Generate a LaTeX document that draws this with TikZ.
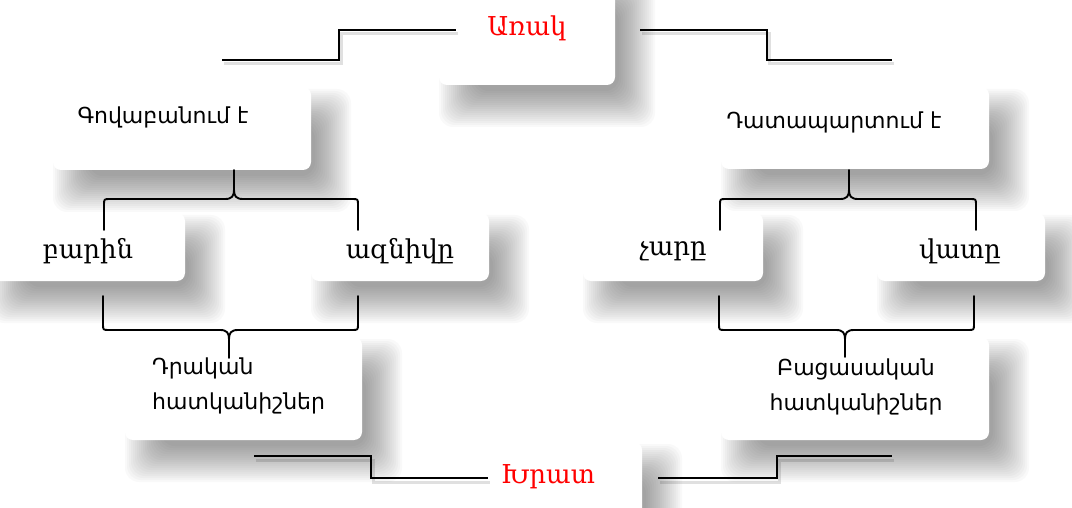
\documentclass[tikz,border=0pt]{standalone}
\usepackage{fontspec}
\newfontfamily\armsans{DejaVu Sans}
\newfontfamily\armserif{DejaVu Serif}
\tikzset{
  box/.style={draw=none, fill=white, rounded corners=8pt, inner sep=0pt},
  stepline/.style={line width=2.8pt, black},
  stepshadow/.style={line width=3pt, black, opacity=0.12},
  brace/.style={line width=1.9pt, black, line join=round, line cap=round},
  sanslbl/.style={font=\armsans\fontsize{22}{35}\selectfont, text=black, inner sep=0pt},
  seriflbl/.style={font=\armserif\fontsize{26}{30}\selectfont, text=black, inner sep=0pt},
  redlbl/.style={seriflbl, text=red},
}
\newcommand{\boxshadow}[4]{%
  \foreach \s in {-16,-14,...,20}{%
    \fill[black, opacity=0.024, rounded corners=14pt] ({#1+20-\s},{#2+22-\s}) rectangle ({#3+20+\s},{#4+22+\s});
  }}
\newcommand{\curlybrace}[7]{%
  \draw[brace] (#1,#6) -- (#1,{#4+6*#7}) .. controls (#1,#4) .. ({#1+6},#4) -- ({#3-9},#4)
    .. controls ({#3-2},#4) and (#3,{#4-3*#7}) .. (#3,{#4-9*#7}) -- (#3,#5)
    (#3,{#4-9*#7}) .. controls (#3,{#4-3*#7}) and ({#3+2},#4) .. ({#3+9},#4)
    -- ({#2-6},#4) .. controls (#2,#4) .. (#2,{#4+6*#7}) -- (#2,#6);}
\begin{document}
\begin{tikzpicture}[x=1pt,y=-1pt]
\useasboundingbox (0,0) rectangle (1072,508);
% shadows
\boxshadow{439}{-30}{615}{85}
\boxshadow{53}{87}{311}{170}
\boxshadow{-10}{213}{185}{281}
\boxshadow{311}{213}{489}{281}
\boxshadow{125}{337}{362}{440}
\boxshadow{457}{442}{642}{545}
\boxshadow{721}{87}{989}{169}
\boxshadow{583}{213}{763}{281}
\boxshadow{877}{213}{1045}{281}
\boxshadow{721}{337}{989}{440}
% boxes
\node[box, minimum width=176pt, minimum height=115pt] (arak) at (527,27.5) {};
\node[box, minimum width=258pt, minimum height=83pt] (gov) at (182,128.5) {};
\node[box, minimum width=195pt, minimum height=68pt] (bar) at (87.5,247) {};
\node[box, minimum width=178pt, minimum height=68pt] (azn) at (400,247) {};
\node[box, minimum width=237pt, minimum height=103pt] (drak) at (243.5,388.5) {};
\node[box, minimum width=185pt, minimum height=103pt] (khrat) at (549.5,493.5) {};
\node[box, minimum width=268pt, minimum height=82pt] (dat) at (855,128) {};
\node[box, minimum width=180pt, minimum height=68pt] (char) at (673,247) {};
\node[box, minimum width=168pt, minimum height=68pt] (vat) at (961,247) {};
\node[box, minimum width=268pt, minimum height=103pt] (bats) at (855,388.5) {};
% step lines
\coordinate (tl1) at (222,60); \coordinate (tl2) at (339,60); \coordinate (tl3) at (339,30); \coordinate (tl4) at (456,30);
\coordinate (tr1) at (640,30); \coordinate (tr2) at (767,30); \coordinate (tr3) at (767,60); \coordinate (tr4) at (892,60);
\coordinate (bl1) at (254,456); \coordinate (bl2) at (371,456); \coordinate (bl3) at (371,478); \coordinate (bl4) at (488,478);
\coordinate (br1) at (658,478); \coordinate (br2) at (777,478); \coordinate (br3) at (777,456); \coordinate (br4) at (892,456);
\foreach \a in {tl,tr,bl,br}{
  \draw[stepshadow, transform canvas={xshift=2pt,yshift=-4pt}] (\a1) -- (\a2) -- (\a3) -- (\a4);
  \draw[stepline] (\a1) -- (\a2) -- (\a3) -- (\a4);
}
% braces
\curlybrace{104}{358}{234}{199}{170}{230}{1}
\curlybrace{103}{358}{229}{330}{358}{296}{-1}
\curlybrace{720}{976}{849}{199}{170}{230}{1}
\curlybrace{719}{974}{845}{330}{357}{296}{-1}
% labels
\node[redlbl] (arakT) at (527,28) {Առակ};
\node[redlbl] (khratT) at (548,477) {Խրատ};
\node[sanslbl] (govT) at (163,117) {Գովաբանում է};
\node[sanslbl] (datT) at (834,122) {Դատապարտում է};
\node[seriflbl] (barT) at (88,251) {բարին};
\node[seriflbl] (aznT) at (400,251) {ազնիվը};
\node[seriflbl] (charT) at (673,251) {չարը};
\node[seriflbl] (vatT) at (960,251) {վատը};
\node[sanslbl, align=left, anchor=west] (drakT) at (152,386) {Դրական\\հատկանիշներ};
\node[sanslbl, align=center] (batsT) at (856,387) {Բացասական\\հատկանիշներ};
\end{tikzpicture}
\end{document}
